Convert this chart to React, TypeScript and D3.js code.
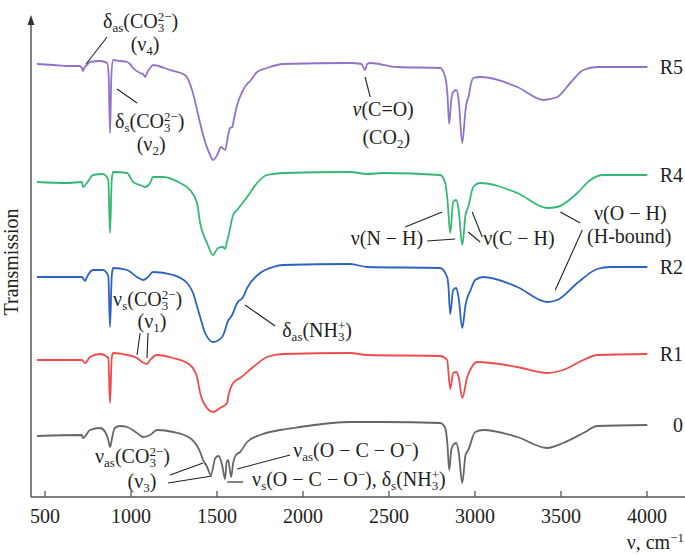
import React from "react";
import * as d3 from "d3";

type Pt = [number, number];

// wavenumber (cm^-1), transmission (a.u., stacked)
const r5: Pt[] = [[453,433],[550,432],[630,431],[700,431],[715,429],[721,426],[728,429],[744,432],[762,435],[820,436],[861,434],[870,422],[878,364],[886,422],[896,437],[936,436],[977,435],[994,433],[1012,429],[1053,424],[1070,423],[1082,420],[1093,424],[1111,429],[1128,432],[1160,431],[1227,427],[1314,422],[1355,407],[1384,387],[1419,362],[1460,342],[1477,337],[1501,342],[1524,350],[1547,347],[1565,362],[1576,369],[1588,370],[1600,379],[1617,392],[1646,405],[1675,413],[1693,416],[1733,425],[1791,429],[1884,433],[2274,434],[2340,433],[2361,427],[2373,433],[2391,434],[2548,430],[2798,429],[2827,420],[2840,402],[2850,373],[2862,397],[2873,405],[2891,407],[2905,397],[2926,354],[2945,387],[2955,397],[2961,399],[2975,412],[2990,419],[3030,420],[3246,410],[3397,397],[3478,400],[3554,414],[3630,427],[3711,430],[4002,430]];
const r4: Pt[] = [[453,315],[628,314],[715,315],[721,310],[744,314],[779,322],[837,323],[868,317],[878,264],[888,317],[896,325],[977,324],[1012,315],[1053,312],[1082,310],[1111,314],[1128,320],[1186,320],[1285,314],[1343,307],[1384,294],[1402,274],[1442,254],[1477,242],[1506,249],[1535,250],[1547,248],[1560,257],[1565,260],[1594,282],[1617,287],[1675,300],[1733,314],[1791,322],[1884,324],[2274,325],[2373,323],[2466,324],[2798,322],[2827,314],[2840,297],[2856,264],[2873,295],[2891,297],[2905,287],[2926,252],[2945,282],[2961,290],[2990,310],[3030,314],[3246,304],[3420,289],[3478,290],[3595,304],[3670,317],[3746,322],[4002,322]];
const r2: Pt[] = [[453,220],[715,220],[733,216],[744,220],[779,227],[837,227],[868,221],[878,170],[888,221],[896,229],[977,227],[1035,220],[1070,217],[1099,220],[1128,225],[1245,222],[1326,214],[1361,204],[1390,187],[1402,180],[1431,164],[1477,155],[1530,160],[1547,167],[1559,174],[1588,182],[1617,194],[1652,200],[1675,209],[1751,224],[1826,230],[1884,232],[2274,233],[2373,230],[2798,229],[2838,220],[2845,212],[2856,183],[2873,207],[2891,209],[2905,199],[2926,169],[2945,192],[2955,199],[2970,205],[3001,217],[3048,220],[3246,210],[3420,195],[3478,197],[3595,214],[3711,228],[3787,230],[4002,230]];
const r1: Pt[] = [[453,137],[715,137],[733,134],[762,140],[820,143],[868,139],[878,94],[888,139],[896,144],[977,142],[1035,139],[1064,135],[1093,133],[1111,137],[1152,142],[1245,139],[1343,132],[1384,120],[1402,104],[1442,89],[1477,85],[1518,89],[1559,94],[1565,100],[1594,114],[1634,119],[1710,130],[1791,140],[1884,143],[2274,144],[2373,142],[2798,141],[2838,137],[2856,108],[2873,124],[2891,125],[2905,120],[2926,99],[2955,120],[2978,129],[3013,135],[3246,130],[3420,124],[3513,127],[3630,137],[3711,142],[4002,143]];
const r0: Pt[] = [[453,61],[715,62],[721,59],[762,67],[820,69],[850,65],[868,57],[878,50],[890,59],[905,69],[936,71],[977,70],[1035,64],[1070,60],[1111,62],[1152,67],[1245,65],[1343,59],[1402,45],[1419,37],[1440,31],[1465,22],[1490,39],[1510,41],[1530,32],[1547,18],[1556,35],[1565,37],[1582,20],[1594,34],[1610,42],[1634,45],[1675,55],[1751,62],[1867,67],[1983,70],[2274,75],[2466,75],[2798,74],[2827,69],[2840,52],[2850,27],[2862,47],[2873,52],[2891,54],[2905,45],[2926,14],[2945,42],[2961,47],[3001,65],[3048,67],[3246,60],[3420,49],[3513,54],[3630,64],[3711,71],[4002,72]];

const seriesNames = ["R5", "R4", "R2", "R1", "0"];
const seriesData = [r5, r4, r2, r1, r0];
const seriesColors = ["#9272c9", "#36b874", "#2c63c0", "#f04b4b", "#666666"];
const xTicks = [500, 1000, 1500, 2000, 2500, 3000, 3500, 4000];

type Seg = { t: string; sub?: string; sup?: string; it?: boolean };
type Label = { wn: number; T: number; anchor: "start" | "middle" | "end"; segs: Seg[] };

const D = "\u2005\u2212\u2005"; // spaced minus sign

const labels: Label[] = [
  { wn: 837, T: 469, anchor: "start", segs: [{ t: "δ", sub: "as" }, { t: "(CO", sub: "3", sup: "2−" }, { t: ")" }] },
  { wn: 1082, T: 446, anchor: "middle", segs: [{ t: "(ν", sub: "4" }, { t: ")" }] },
  { wn: 907, T: 369, anchor: "start", segs: [{ t: "δ", sub: "s" }, { t: "(CO", sub: "3", sup: "2−" }, { t: ")" }] },
  { wn: 1117, T: 346, anchor: "middle", segs: [{ t: "(ν", sub: "2" }, { t: ")" }] },
  { wn: 2466, T: 381, anchor: "middle", segs: [{ t: "ν", it: true }, { t: "(C=O)" }] },
  { wn: 2484, T: 353, anchor: "middle", segs: [{ t: "(CO", sub: "2" }, { t: ")" }] },
  { wn: 896, T: 191, anchor: "start", segs: [{ t: "ν", sub: "s" }, { t: "(CO", sub: "3", sup: "2−" }, { t: ")" }] },
  { wn: 1122, T: 169, anchor: "middle", segs: [{ t: "(ν", sub: "1" }, { t: ")" }] },
  { wn: 1879, T: 160, anchor: "start", segs: [{ t: "δ", sub: "as" }, { t: "(NH", sub: "3", sup: "+" }, { t: ")" }] },
  { wn: 2699, T: 252, anchor: "end", segs: [{ t: `ν(N${D}H)` }] },
  { wn: 3048, T: 252, anchor: "start", segs: [{ t: `ν(C${D}H)` }] },
  { wn: 3903, T: 277, anchor: "middle", segs: [{ t: `ν(O${D}H)` }] },
  { wn: 3897, T: 254, anchor: "middle", segs: [{ t: "(H-bound)" }] },
  { wn: 791, T: 34, anchor: "start", segs: [{ t: "ν", sub: "as" }, { t: "(CO", sub: "3", sup: "2−" }, { t: ")" }] },
  { wn: 1064, T: 9, anchor: "middle", segs: [{ t: "(ν", sub: "3" }, { t: ")" }] },
  { wn: 1943, T: 40, anchor: "start", segs: [{ t: "ν", sub: "as" }, { t: `(O${D}C${D}O`, sup: "−" }, { t: ")" }] },
  { wn: 1704, T: 11, anchor: "start", segs: [{ t: "ν", sub: "s" }, { t: `(O${D}C${D}O`, sup: "−" }, { t: "), δ", sub: "s" }, { t: "(NH", sub: "3", sup: "+" }, { t: ")" }] },
];

// leader lines: [wn1, T1, wn2, T2]
const leaders: [number, number, number, number][] = [
  [861, 460, 739, 433],
  [919, 408, 1035, 394],
  [2361, 420, 2391, 400],
  [1053, 164, 1035, 142],
  [1099, 164, 1093, 139],
  [1663, 192, 1838, 171],
  [2594, 270, 2809, 285],
  [2722, 256, 2885, 258],
  [2984, 285, 3042, 260],
  [2961, 265, 3030, 255],
  [3496, 285, 3612, 274],
  [3624, 267, 3467, 207],
  [1227, 22, 1419, 34],
  [1215, 14, 1471, 21],
  [1617, 28, 1925, 42],
  [1559, 15, 1652, 15],
];

const FONT = "Liberation Serif";
const FS = 20;
const SFS = 13;

function rich(segs: Seg[]) {
  const out: React.ReactNode[] = [];
  let cur = 0;
  segs.forEach((s, i) => {
    out.push(
      <tspan key={i + "m"} dy={0 - cur} fontSize={FS} fontStyle={s.it ? "italic" : undefined}>
        {s.t}
      </tspan>
    );
    cur = 0;
    if (s.sub) {
      out.push(<tspan key={i + "b"} dy={4 - cur} fontSize={SFS}>{s.sub}</tspan>);
      cur = 4;
    }
    if (s.sup) {
      const dx = s.sub ? -s.sub.length * SFS * 0.5 : 0;
      out.push(<tspan key={i + "p"} dx={dx} dy={-7 - cur} fontSize={SFS}>{s.sup}</tspan>);
      cur = -7;
    }
  });
  return out;
}

export default function App() {
  const W = 685, H = 556;
  const x = d3.scaleLinear().domain([418.6, 4221]).range([31, 685]);
  const y = d3.scaleLinear().domain([0, 482]).range([497, 15]);
  const line = d3.line<Pt>().x((d) => x(d[0])).y((d) => y(d[1])).curve(d3.curveMonotoneX);
  const axisColor = "#555";
  const textColor = "#231f20";
  const ts: React.CSSProperties = { fontFamily: FONT };

  return (
    <svg width={W} height={H} style={{ position: "absolute", left: 0, top: 0, background: "#fff", fontFamily: FONT }}>
      {/* axes */}
      <line x1={x.range()[0]} x2={x.range()[1]} y1={y(0)} y2={y(0)} stroke={axisColor} strokeWidth={1.5} />
      <line x1={x.range()[0]} x2={x.range()[0]} y1={y(0)} y2={y(482) + 8} stroke={axisColor} strokeWidth={1.5} />
      <path d={`M${x.range()[0]},${y(482)} l-3.5,10 l7,0 z`} fill="#333" />
      {xTicks.map((t) => (
        <g key={t}>
          <line x1={x(t)} x2={x(t)} y1={y(0)} y2={y(0) - 6} stroke={axisColor} strokeWidth={1.3} />
          <text x={x(t)} y={y(0) + 26} textAnchor="middle" fontSize={FS} fill={textColor} style={ts}>{t}</text>
        </g>
      ))}
      <text x={684} y={549} textAnchor="end" fill={textColor} style={ts}>
        {rich([{ t: "ν, cm", sup: "−1" }])}
      </text>
      <text transform={`translate(18, 262) rotate(-90)`} textAnchor="middle" fontSize={FS} fill={textColor} style={ts}>Transmission</text>

      {/* spectra */}
      {seriesData.map((s, i) => (
        <path key={seriesNames[i]} d={line(s) || ""} fill="none" stroke={seriesColors[i]} strokeWidth={1.8} strokeLinejoin="round" />
      ))}
      {seriesData.map((s, i) => (
        <text key={"l" + i} x={683} y={y(s[s.length - 1][1]) + 7} textAnchor="end" fontSize={FS} fill={textColor} style={ts}>
          {seriesNames[i]}
        </text>
      ))}

      {/* annotations */}
      {leaders.map((l, i) => (
        <line key={"ld" + i} x1={x(l[0])} y1={y(l[1])} x2={x(l[2])} y2={y(l[3])} stroke="#222" strokeWidth={1.1} />
      ))}
      {labels.map((lb, i) => (
        <text key={"lb" + i} x={x(lb.wn)} y={y(lb.T)} textAnchor={lb.anchor} fill={textColor} style={ts}>
          {rich(lb.segs)}
        </text>
      ))}
    </svg>
  );
}
